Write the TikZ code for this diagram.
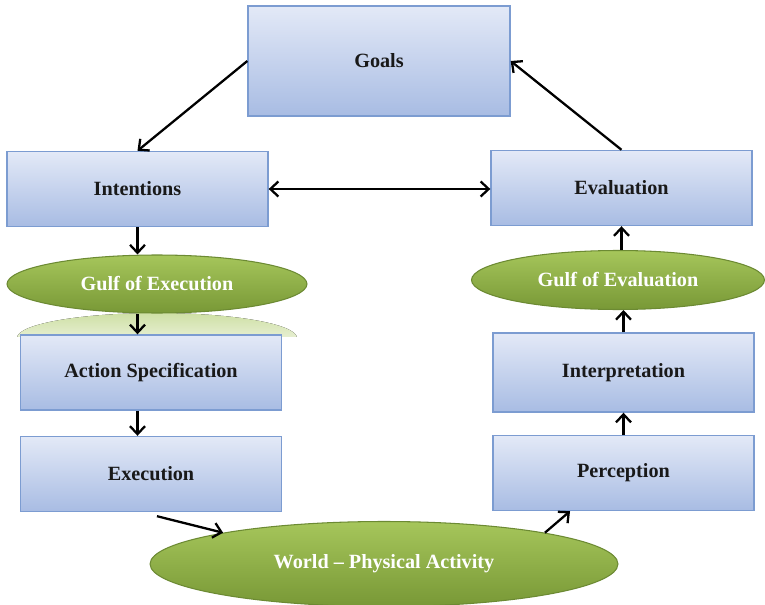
\documentclass[tikz,border=0pt]{standalone}
\usepackage{fontspec}
\setmainfont{Liberation Serif}
\usepackage{xcolor}
\usetikzlibrary{arrows, arrows.meta, positioning, shapes.geometric}
\definecolor{boxtop}{HTML}{E3E9F7}
\definecolor{boxbottom}{HTML}{A8BCE3}
\definecolor{boxline}{HTML}{7C9CD1}
\definecolor{gulftop}{HTML}{A6C65B}
\definecolor{gulfbottom}{HTML}{789836}
\definecolor{gulfline}{HTML}{6C8A33}
\tikzset{
    stage/.style={rectangle, draw=boxline, line width=0.8pt, top color=boxtop, bottom color=boxbottom, minimum width=5.22cm, minimum height=1.5cm, text=black!90, font=\bfseries\fontsize{11.5}{13}\selectfont}, % blue boxes
    gulf/.style={ellipse, draw=gulfline, line width=0.6pt, top color=gulftop, bottom color=gulfbottom, text=white, font=\bfseries\fontsize{11.5}{13}\selectfont}, % green ellipses
}
\tikzstyle{arrow} = [line width=1.3pt, ->, >={Straight Barb[length=1.6mm, width=3mm]}]

\begin{document}
\begin{tikzpicture}[x=0.02cm, y=-0.02cm]
                \useasboundingbox (0,0) rectangle (765,605);

                % faded reflection under the gulf of execution
                \begin{scope}
                    \clip (0,313) rectangle (320,336);
                    \fill[top color=gulftop!55, bottom color=white] (157,338) ellipse [x radius=140, y radius=25];
                \end{scope}

                \node[stage, minimum width=5.24cm, minimum height=2.2cm] (goals) at (379,61) {Goals};
                \node[stage] (intentions) at (137.5,189) {Intentions};
                \node[stage] (evaluation) at (621.5,188) {Evaluation};
                \node[gulf, minimum width=6cm, minimum height=1.16cm] (gulfexec) at (157,284) {Gulf of Execution};
                \node[gulf, minimum width=5.86cm, minimum height=1.18cm] (gulfeval) at (618,280) {Gulf of Evaluation};
                \node[stage] (actionspec) at (151,372.5) {Action Specification};
                \node[stage] (execution) at (151,474) {Execution};
                \node[stage, minimum height=1.58cm] (interpretation) at (623.5,372.5) {Interpretation};
                \node[stage] (perception) at (623.5,473) {Perception};
                \node[gulf, minimum width=9.36cm, minimum height=1.7cm] (world) at (384,564) {World -- Physical Activity};

                \draw[arrow] (goals.west) -- (intentions.north);
                \draw[arrow] (evaluation.north) -- (goals.east);
                \draw[arrow, <->] (intentions.east) -- (intentions.east -| evaluation.west);
                \draw[arrow] (intentions.south) -- (intentions.south |- gulfexec.north);
                \draw[arrow] (gulfexec.south -| intentions.south) -- (actionspec.north -| intentions.south);
                \draw[arrow] (actionspec.south -| intentions.south) -- (execution.north -| intentions.south);
                \draw[arrow] ([shift={(0.12cm,-0.08cm)}]execution.south) -- (world.169);
                \draw[arrow] (world.11) -- ([xshift=-1.07cm]perception.south);
                \draw[arrow] (perception.north) -- (interpretation.south);
                \draw[arrow] (interpretation.north) -- (interpretation.north |- gulfeval.south);
                \draw[arrow] (evaluation.south |- gulfeval.north) -- (evaluation.south);
            \end{tikzpicture}
\end{document}
